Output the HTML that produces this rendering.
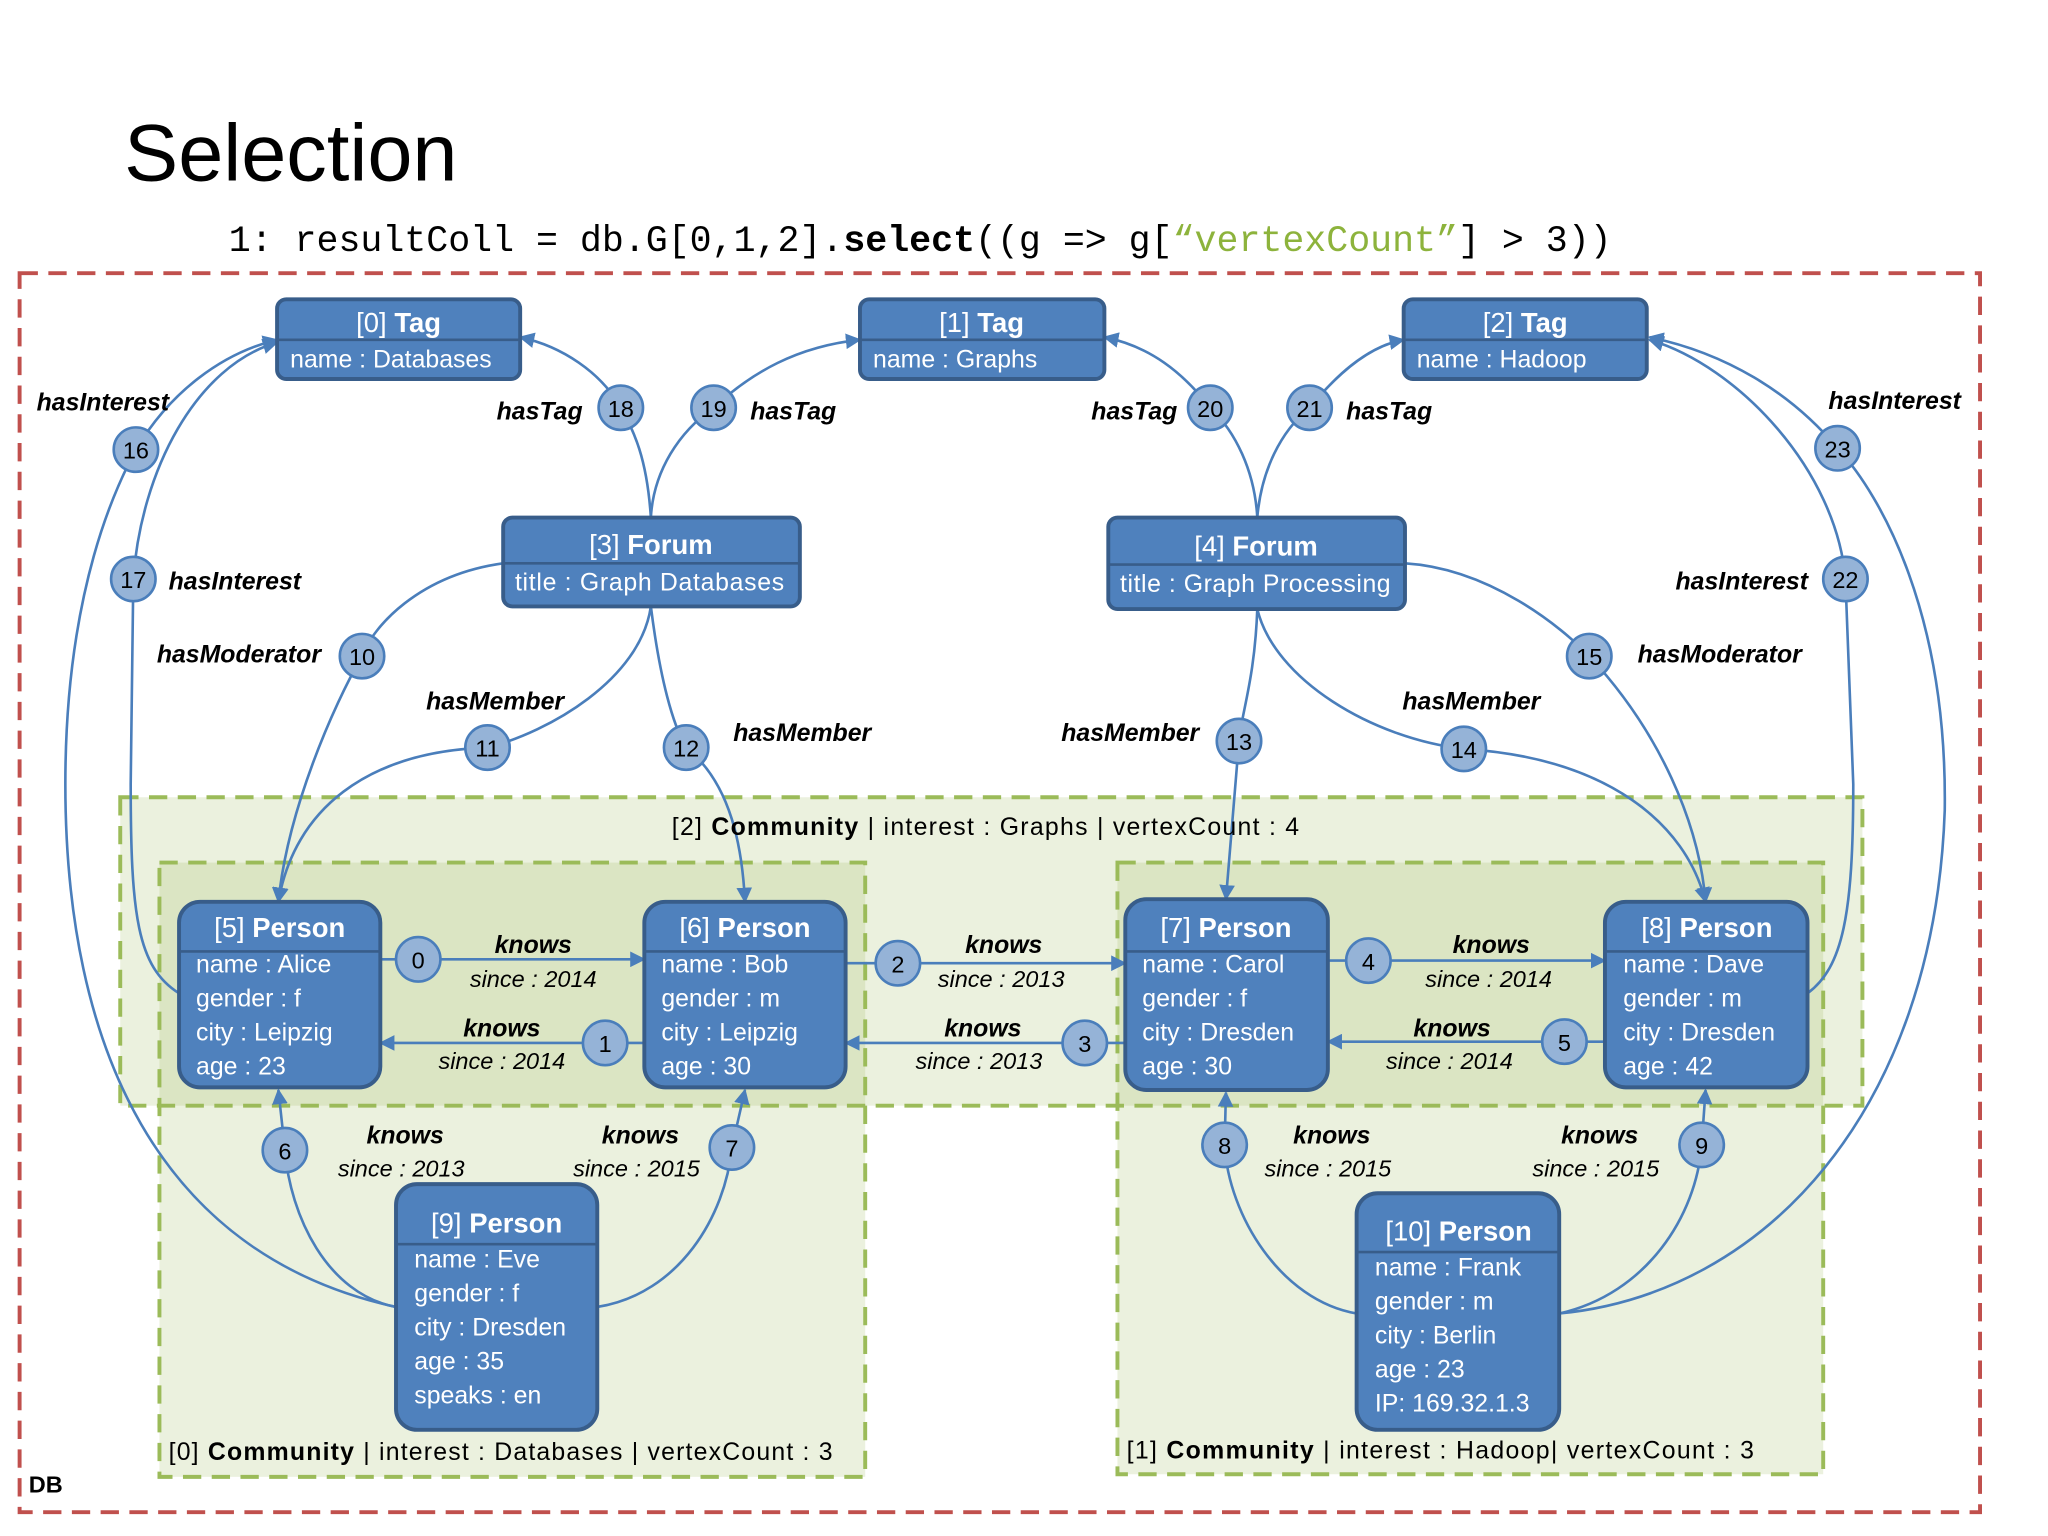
<!DOCTYPE html>
<html><head><meta charset="utf-8"><style>
html,body{margin:0;padding:0;background:#fff}
svg{display:block}
text{font-family:"Liberation Sans",sans-serif}
.w{fill:#fff;font-size:19px}
.h{fill:#fff;font-size:21px}
.l{font-size:19px;font-weight:bold;font-style:italic;fill:#000}
.s{font-size:18px;font-style:italic;fill:#000}
.c{font-size:18px;fill:#000;text-anchor:middle}
.n{fill:#4f81bd;stroke:#385d8a;stroke-width:3}
.e{fill:none;stroke:#4a7ebb;stroke-width:2}
.ci{fill:#95b3d7;stroke:#4a7ebb;stroke-width:2}
.cm{font-size:19px;fill:#000}
</style></head><body>
<svg width="2048" height="1536" viewBox="0 0 1567 1175.25" xmlns="http://www.w3.org/2000/svg">
<defs><marker id="a" viewBox="0 0 10 10" refX="9" refY="5" markerWidth="6" markerHeight="6" orient="auto"><path d="M0,0L10,5L0,10z" fill="#4a7ebb"/></marker></defs>
<text x="95" y="138" style="font-size:62px">Selection</text>
<text x="175" y="192" style="font-family:'Liberation Mono',monospace;font-size:28px">1: resultColl = db.G[0,1,2].<tspan font-weight="bold">select</tspan>((g =&gt; g[<tspan fill="#8db33c">“vertexCount”</tspan>] &gt; 3))</text>
<rect x="15" y="209" width="1500" height="948" fill="none" stroke="#c0504d" stroke-width="3" stroke-dasharray="14 8"/>
<g fill="rgba(155,187,89,0.2)" stroke="#9bbb59" stroke-width="3" stroke-dasharray="14 8">
<rect x="92" y="610" width="1333" height="236"/>
<rect x="122" y="660" width="540" height="470"/>
<rect x="855" y="660" width="540" height="468"/>
</g>
<g class="e" marker-end="url(#a)">
<path d="M291,734H493"/><path d="M493,798H291"/><path d="M647,737H861"/><path d="M861,798H647"/><path d="M1016,735H1228"/><path d="M1228,797H1016"/>
<path d="M303,1000C250,990 222,930 218,880L213,834"/>
<path d="M457,1000C520,990 555,930 560,878L570,834"/>
<path d="M1038,1005C980,995 940,930 937,876L938,836"/>
<path d="M1193,1005C1260,990 1298,930 1302,876L1305,834"/>
<path d="M385,431C320,440 285,480 277,502C255,540 220,620 213,690"/>
<path d="M498,464C490,520 420,560 373,572C280,575 225,620 213,690"/>
<path d="M498,464C505,520 515,555 525,572C560,600 568,650 570,690"/>
<path d="M962,466C960,520 950,545 948,567L938,688"/>
<path d="M962,466C975,520 1050,565 1120,573C1230,580 1290,630 1305,690"/>
<path d="M1075,431C1140,435 1195,480 1216,502C1270,560 1300,630 1305,690"/>
<path d="M303,1000C120,960 50,800 50,600C50,450 90,370 104,344C130,300 170,270 212,260"/>
<path d="M137,760C105,740 100,700 100,600L102,443C108,360 150,280 212,262"/>
<path d="M498,396C495,350 485,330 475,312C460,285 430,265 398,258"/>
<path d="M498,396C500,360 520,330 546,312C575,285 610,265 658,260"/>
<path d="M962,396C960,360 945,330 926,312C905,285 880,265 845,258"/>
<path d="M962,396C965,360 980,330 1002,312C1020,290 1045,265 1074,260"/>
<path d="M1383,760C1410,740 1418,700 1418,600L1412,443C1405,360 1330,280 1262,260"/>
<path d="M1193,1005C1350,990 1480,850 1488,620C1490,470 1440,380 1406,343C1370,300 1320,270 1262,258"/>
</g>
<g>
<rect class="n" x="212" y="229" width="186" height="61" rx="7"/><line x1="212" y1="260" x2="398" y2="260" stroke="#385d8a" stroke-width="2"/>
<text class="h" x="305" y="254" text-anchor="middle">[0] <tspan font-weight="bold">Tag</tspan></text><text class="w" x="222" y="281">name : Databases</text>
<rect class="n" x="658" y="229" width="187" height="61" rx="7"/><line x1="658" y1="260" x2="845" y2="260" stroke="#385d8a" stroke-width="2"/>
<text class="h" x="751" y="254" text-anchor="middle">[1] <tspan font-weight="bold">Tag</tspan></text><text class="w" x="668" y="281">name : Graphs</text>
<rect class="n" x="1074" y="229" width="186" height="61" rx="7"/><line x1="1074" y1="260" x2="1260" y2="260" stroke="#385d8a" stroke-width="2"/>
<text class="h" x="1167" y="254" text-anchor="middle">[2] <tspan font-weight="bold">Tag</tspan></text><text class="w" x="1084" y="281">name : Hadoop</text>
<rect class="n" x="385" y="396" width="227" height="68" rx="7"/><line x1="385" y1="431" x2="612" y2="431" stroke="#385d8a" stroke-width="2"/>
<text class="h" x="498" y="424" text-anchor="middle">[3] <tspan font-weight="bold">Forum</tspan></text><text class="w" x="394" y="452" textLength="206">title : Graph Databases</text>
<rect class="n" x="848" y="396" width="227" height="70" rx="7"/><line x1="848" y1="432" x2="1075" y2="432" stroke="#385d8a" stroke-width="2"/>
<text class="h" x="961" y="425" text-anchor="middle">[4] <tspan font-weight="bold">Forum</tspan></text><text class="w" x="857" y="453" textLength="207">title : Graph Processing</text>
</g>
<g>
<rect class="n" x="137" y="690" width="154" height="142" rx="16"/><line x1="137" y1="728" x2="291" y2="728" stroke="#385d8a" stroke-width="2"/>
<text class="h" x="214" y="717" text-anchor="middle">[5] <tspan font-weight="bold">Person</tspan></text>
<text class="w" x="150" y="744">name : Alice</text><text class="w" x="150" y="770">gender : f</text><text class="w" x="150" y="796">city : Leipzig</text><text class="w" x="150" y="822">age : 23</text>
<rect class="n" x="493" y="690" width="154" height="142" rx="16"/><line x1="493" y1="728" x2="647" y2="728" stroke="#385d8a" stroke-width="2"/>
<text class="h" x="570" y="717" text-anchor="middle">[6] <tspan font-weight="bold">Person</tspan></text>
<text class="w" x="506" y="744">name : Bob</text><text class="w" x="506" y="770">gender : m</text><text class="w" x="506" y="796">city : Leipzig</text><text class="w" x="506" y="822">age : 30</text>
<rect class="n" x="861" y="688" width="155" height="146" rx="16"/><line x1="861" y1="728" x2="1016" y2="728" stroke="#385d8a" stroke-width="2"/>
<text class="h" x="938" y="717" text-anchor="middle">[7] <tspan font-weight="bold">Person</tspan></text>
<text class="w" x="874" y="744">name : Carol</text><text class="w" x="874" y="770">gender : f</text><text class="w" x="874" y="796">city : Dresden</text><text class="w" x="874" y="822">age : 30</text>
<rect class="n" x="1228" y="690" width="155" height="142" rx="16"/><line x1="1228" y1="728" x2="1383" y2="728" stroke="#385d8a" stroke-width="2"/>
<text class="h" x="1306" y="717" text-anchor="middle">[8] <tspan font-weight="bold">Person</tspan></text>
<text class="w" x="1242" y="744">name : Dave</text><text class="w" x="1242" y="770">gender : m</text><text class="w" x="1242" y="796">city : Dresden</text><text class="w" x="1242" y="822">age : 42</text>
<rect class="n" x="303" y="906" width="154" height="188" rx="16"/><line x1="303" y1="952" x2="457" y2="952" stroke="#385d8a" stroke-width="2"/>
<text class="h" x="380" y="943" text-anchor="middle">[9] <tspan font-weight="bold">Person</tspan></text>
<text class="w" x="317" y="970">name : Eve</text><text class="w" x="317" y="996">gender : f</text><text class="w" x="317" y="1022">city : Dresden</text><text class="w" x="317" y="1048">age : 35</text><text class="w" x="317" y="1074">speaks : en</text>
<rect class="n" x="1038" y="913" width="155" height="181" rx="16"/><line x1="1038" y1="958" x2="1193" y2="958" stroke="#385d8a" stroke-width="2"/>
<text class="h" x="1116" y="949" text-anchor="middle">[10] <tspan font-weight="bold">Person</tspan></text>
<text class="w" x="1052" y="976">name : Frank</text><text class="w" x="1052" y="1002">gender : m</text><text class="w" x="1052" y="1028">city : Berlin</text><text class="w" x="1052" y="1054">age : 23</text><text class="w" x="1052" y="1080">IP: 169.32.1.3</text>
</g>
<g>
<circle class="ci" cx="320" cy="734" r="17"/><text class="c" x="320" y="741">0</text>
<circle class="ci" cx="463" cy="798" r="17"/><text class="c" x="463" y="805">1</text>
<circle class="ci" cx="687" cy="737" r="17"/><text class="c" x="687" y="744">2</text>
<circle class="ci" cx="830" cy="798" r="17"/><text class="c" x="830" y="805">3</text>
<circle class="ci" cx="1047" cy="735" r="17"/><text class="c" x="1047" y="742">4</text>
<circle class="ci" cx="1197" cy="797" r="17"/><text class="c" x="1197" y="804">5</text>
<circle class="ci" cx="218" cy="880" r="17"/><text class="c" x="218" y="887">6</text>
<circle class="ci" cx="560" cy="878" r="17"/><text class="c" x="560" y="885">7</text>
<circle class="ci" cx="937" cy="876" r="17"/><text class="c" x="937" y="883">8</text>
<circle class="ci" cx="1302" cy="876" r="17"/><text class="c" x="1302" y="883">9</text>
<circle class="ci" cx="277" cy="502" r="17"/><text class="c" x="277" y="509">10</text>
<circle class="ci" cx="373" cy="572" r="17"/><text class="c" x="373" y="579">11</text>
<circle class="ci" cx="525" cy="572" r="17"/><text class="c" x="525" y="579">12</text>
<circle class="ci" cx="948" cy="567" r="17"/><text class="c" x="948" y="574">13</text>
<circle class="ci" cx="1120" cy="573" r="17"/><text class="c" x="1120" y="580">14</text>
<circle class="ci" cx="1216" cy="502" r="17"/><text class="c" x="1216" y="509">15</text>
<circle class="ci" cx="104" cy="344" r="17"/><text class="c" x="104" y="351">16</text>
<circle class="ci" cx="102" cy="443" r="17"/><text class="c" x="102" y="450">17</text>
<circle class="ci" cx="475" cy="312" r="17"/><text class="c" x="475" y="319">18</text>
<circle class="ci" cx="546" cy="312" r="17"/><text class="c" x="546" y="319">19</text>
<circle class="ci" cx="926" cy="312" r="17"/><text class="c" x="926" y="319">20</text>
<circle class="ci" cx="1002" cy="312" r="17"/><text class="c" x="1002" y="319">21</text>
<circle class="ci" cx="1412" cy="443" r="17"/><text class="c" x="1412" y="450">22</text>
<circle class="ci" cx="1406" cy="343" r="17"/><text class="c" x="1406" y="350">23</text>
</g>
<g>
<text class="l" x="28" y="314">hasInterest</text>
<text class="l" x="129" y="451">hasInterest</text>
<text class="l" x="120" y="507">hasModerator</text>
<text class="l" x="326" y="543">hasMember</text>
<text class="l" x="561" y="567">hasMember</text>
<text class="l" x="380" y="321">hasTag</text>
<text class="l" x="574" y="321">hasTag</text>
<text class="l" x="835" y="321">hasTag</text>
<text class="l" x="1030" y="321">hasTag</text>
<text class="l" x="812" y="567">hasMember</text>
<text class="l" x="1073" y="543">hasMember</text>
<text class="l" x="1253" y="507">hasModerator</text>
<text class="l" x="1282" y="451">hasInterest</text>
<text class="l" x="1399" y="313">hasInterest</text>
</g>
<g text-anchor="middle">
<text class="l" x="408" y="729">knows</text><text class="s" x="408" y="755">since : 2014</text>
<text class="l" x="384" y="793">knows</text><text class="s" x="384" y="818">since : 2014</text>
<text class="l" x="768" y="729">knows</text><text class="s" x="766" y="755">since : 2013</text>
<text class="l" x="752" y="793">knows</text><text class="s" x="749" y="818">since : 2013</text>
<text class="l" x="1141" y="729">knows</text><text class="s" x="1139" y="755">since : 2014</text>
<text class="l" x="1111" y="793">knows</text><text class="s" x="1109" y="818">since : 2014</text>
<text class="l" x="310" y="875">knows</text><text class="s" x="307" y="900">since : 2013</text>
<text class="l" x="490" y="875">knows</text><text class="s" x="487" y="900">since : 2015</text>
<text class="l" x="1019" y="875">knows</text><text class="s" x="1016" y="900">since : 2015</text>
<text class="l" x="1224" y="875">knows</text><text class="s" x="1221" y="900">since : 2015</text>
</g>
<text class="cm" x="514" y="639" textLength="480">[2] <tspan font-weight="bold">Community</tspan> | interest : Graphs | vertexCount : 4</text>
<text class="cm" x="129" y="1117" textLength="508">[0] <tspan font-weight="bold">Community</tspan> | interest : Databases | vertexCount : 3</text>
<text class="cm" x="862" y="1116" textLength="480">[1] <tspan font-weight="bold">Community</tspan> | interest : Hadoop| vertexCount : 3</text>
<text x="22" y="1142" style="font-size:18px;font-weight:bold">DB</text>
</svg>
</body></html>
